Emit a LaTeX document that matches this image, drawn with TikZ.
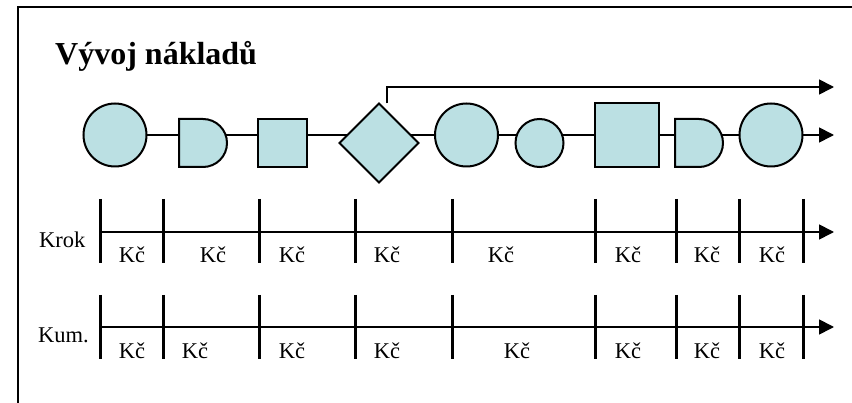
\documentclass[tikz,border=0pt]{standalone}
\usepackage{fontspec}
\setmainfont{Liberation Serif}
\usetikzlibrary{shapes.geometric,arrows.meta,backgrounds}
\definecolor{procfill}{HTML}{BBE0E3}
\begin{document}
\begin{tikzpicture}[x=1pt, y=-1pt,
	proc/.style={fill=procfill, draw=black, line width=2pt, inner sep=0pt, outer sep=0pt},
	gate/.style={rectangle, inner sep=0pt, outer sep=0pt},
	link/.style={draw=black, line width=1.7pt},
	tip/.style={-{Triangle[length=15pt, width=15pt]}},
	tick/.style={draw=black, line width=3pt},
	cost/.style={anchor=base, inner sep=0pt, font=\fontsize{22.5}{27}\selectfont},
	rowname/.style={anchor=base west, inner sep=0pt, font=\fontsize{22.5}{27}\selectfont}]
	\useasboundingbox (0,0) rectangle (852,403);
	\draw[line width=2pt] (18,403) -- (18,7) -- (852,7);

	\node[anchor=base west, inner sep=0pt, font=\bfseries\fontsize{32}{38}\selectfont](title) at (55,64.5){Vývoj nákladů};

	% process chain
	\node[proc, circle, minimum size=63](one) at (115,135){};
	\node[gate, minimum size=48](two) at (203,143){};
	\node[proc, rectangle, minimum width=49, minimum height=48](three) at (282.5,143){};
	\node[proc, diamond, minimum size=79](four) at (379,143){};
	\node[proc, circle, minimum size=63](five) at (466.5,135){};
	\node[proc, circle, minimum size=48](six) at (539.5,143){};
	\node[proc, rectangle, minimum size=64](seven) at (627,135){};
	\node[gate, minimum size=48](eight) at (699,143){};
	\node[proc, circle, minimum size=63](nine) at (771,135){};
	\draw[proc] (two.north west) -- (two.north) arc[start angle=90, end angle=-90, radius=24pt] -- (two.south west) -- cycle;
	\draw[proc] (eight.north west) -- (eight.north) arc[start angle=90, end angle=-90, radius=24pt] -- (eight.south west) -- cycle;

	\coordinate (mainend) at (834,135);
	\coordinate (topend) at (834,87);
	\begin{scope}[on background layer]
		\draw[link, tip] (one.center) -- (mainend);
	\end{scope}
	\draw[link, tip] ([xshift=8pt]four.north) |- (topend);

	% Krok
	\coordinate (krok) at (100,232);
	\coordinate (krokend) at (834,232);
	\draw[link, tip] (krok) -- (krokend);
	\foreach \x in {100,163,259,355,452,595,676,739,803}
		\draw[tick] (\x,199) -- (\x,263);
	\foreach \x in {132,213,292,387,501,628,707,772}
		\node[cost](krok-\x) at (\x,263){Kč};
	\node[rowname](krokname) at (39,248){Krok};

	% Kum.
	\coordinate (kum) at (100,327);
	\coordinate (kumend) at (834,327);
	\draw[link, tip] (kum) -- (kumend);
	\foreach \x in {100,163,259,355,452,595,676,739,803}
		\draw[tick] (\x,295) -- (\x,359);
	\foreach \x in {132,195,292,387,517,628,707,772}
		\node[cost](kum-\x) at (\x,358.5){Kč};
	\node[rowname](kumname) at (38,343){Kum.};
\end{tikzpicture}
\end{document}
